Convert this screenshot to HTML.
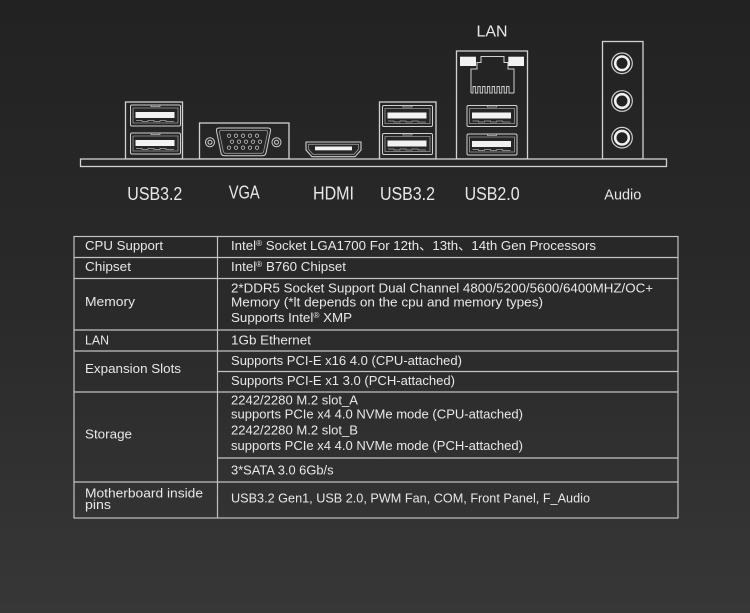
<!DOCTYPE html>
<html><head><meta charset="utf-8"><style>
html,body{margin:0;padding:0;background:#2a2a2a;}
svg{display:block;}
text{font-family:"Liberation Sans","Noto Sans CJK SC",sans-serif;fill:#e8e8e8;}
</style></head><body>
<svg width="750" height="613" viewBox="0 0 750 613" xmlns="http://www.w3.org/2000/svg">
<defs>
<linearGradient id="bg" x1="0" y1="0" x2="0" y2="1">
<stop offset="0" stop-color="#222222"/><stop offset="0.5" stop-color="#2a2a2a"/><stop offset="1" stop-color="#373737"/>
</linearGradient>
<g id="usb">
<rect x="0.5" y="0.5" width="50" height="21" rx="1.5" fill="none" stroke="#d0d0d0" stroke-width="1"/>
<path d="M3,3.5 H48 V18.5 H3 Z" fill="none" stroke="#9a9a9a" stroke-width="0.8"/>
<path d="M21,0.5 V2 H30 V0.5" fill="none" stroke="#bbb" stroke-width="0.8"/>
<rect x="5.5" y="7.5" width="39" height="6" fill="#f2f2f2"/>
<path d="M6,16 H12 V17 H18 V16 H24 V17 H30 V16 H36 V17 H44" stroke="#aaa" stroke-width="0.7" fill="none"/>
</g>
</defs>
<rect x="0" y="0" width="750" height="613" fill="url(#bg)"/>

<!-- ports -->
<g fill="none" stroke="#d2d2d2" stroke-width="1.3">
<!-- left USB3.2 box -->
<rect x="125.5" y="102" width="57" height="57"/>
<!-- VGA box -->
<rect x="199.5" y="123" width="89.5" height="36"/>
<!-- right USB3.2 box -->
<rect x="379.5" y="102" width="56.5" height="57"/>
<!-- LAN box -->
<rect x="456.5" y="51" width="71" height="108"/>
<!-- Audio box -->
<rect x="602.5" y="41.5" width="40.5" height="117.5"/>
</g>

<use href="#usb" x="130" y="104.5"/>
<use href="#usb" x="130" y="132.5"/>
<use href="#usb" x="382" y="105"/>
<use href="#usb" x="382" y="133"/>
<use href="#usb" x="466.5" y="105"/>
<use href="#usb" x="466.5" y="133.5"/>

<!-- VGA -->
<g fill="none" stroke="#d0d0d0" stroke-width="1">
<path d="M219,128 H268 Q271,128 270.5,131 L266,153 Q265.5,155.7 262.5,155.7 H224.5 Q221.5,155.7 221,153 L216.5,131 Q216,128 219,128 Z"/>
<path d="M221,130.5 H266 Q268,130.5 267.6,132.5 L263.6,151.5 Q263.2,153.3 261,153.3 H226 Q223.8,153.3 223.4,151.5 L219.4,132.5 Q219,130.5 221,130.5 Z" stroke="#999" stroke-width="0.8"/>
<circle cx="210" cy="142.3" r="4.5"/>
<circle cx="210" cy="142.3" r="2"/>
<circle cx="276.5" cy="142.3" r="4.5"/>
<circle cx="276.5" cy="142.3" r="2"/>
<g stroke-width="0.8" stroke="#c8c8c8">
<circle cx="229" cy="135.7" r="1.7"/><circle cx="236" cy="135.7" r="1.7"/><circle cx="243" cy="135.7" r="1.7"/><circle cx="250" cy="135.7" r="1.7"/><circle cx="257" cy="135.7" r="1.7"/>
<circle cx="232" cy="141.7" r="1.7"/><circle cx="239" cy="141.7" r="1.7"/><circle cx="246" cy="141.7" r="1.7"/><circle cx="253" cy="141.7" r="1.7"/><circle cx="260" cy="141.7" r="1.7"/>
<circle cx="229" cy="147.7" r="1.7"/><circle cx="236" cy="147.7" r="1.7"/><circle cx="243" cy="147.7" r="1.7"/><circle cx="250" cy="147.7" r="1.7"/><circle cx="257" cy="147.7" r="1.7"/>
</g>
</g>

<!-- HDMI -->
<g fill="none" stroke="#d0d0d0" stroke-width="1.1">
<path d="M306,142 H361 V150 L355,156.7 H312 L306,150 Z"/>
<path d="M308.5,144.3 H358.5 V149.2 L354,154.3 H313 L308.5,149.2 Z" stroke="#999" stroke-width="0.8"/>
</g>
<rect x="315" y="146.5" width="37" height="3.8" fill="#f2f2f2"/>

<!-- RJ45 -->
<rect x="460" y="56.7" width="16" height="9.3" fill="#f2f2f2"/>
<rect x="508.3" y="56.7" width="15.7" height="9.3" fill="#f2f2f2"/>
<path d="M471,93 V69 H477 V62.5 H481 V56.5 H504 V62.5 H508 V69 H514 V93" fill="none" stroke="#d0d0d0" stroke-width="1"/>
<path d="M471,93 H473 V86.5 H475.4 V93 H477.8 V86.5 H480.2 V93 H482.6 V86.5 H485 V93 H487.4 V86.5 H489.8 V93 H492.2 V86.5 H494.6 V93 H497 V86.5 H499.4 V93 H501.8 V86.5 H504.2 V93 H506.6 V86.5 H509 V93 H514" fill="none" stroke="#cfcfcf" stroke-width="0.9"/>

<!-- Audio jacks -->
<g fill="#222">
<circle cx="622" cy="63.3" r="10.3" stroke="#cfcfcf" stroke-width="1.2"/>
<circle cx="622" cy="63.3" r="6.8" stroke="#f0f0f0" stroke-width="2.6"/>
<circle cx="622" cy="101" r="10.3" stroke="#cfcfcf" stroke-width="1.2"/>
<circle cx="622" cy="101" r="6.8" stroke="#f0f0f0" stroke-width="2.6"/>
<circle cx="622" cy="137.7" r="10.3" stroke="#cfcfcf" stroke-width="1.2"/>
<circle cx="622" cy="137.7" r="6.8" stroke="#f0f0f0" stroke-width="2.6"/>
</g>

<!-- base plate -->
<rect x="80.5" y="159" width="586" height="7.5" fill="#262626" stroke="#d2d2d2" stroke-width="1.3"/>

<!-- port labels -->
<text x="492" y="36.5" font-size="16" textLength="31" lengthAdjust="spacingAndGlyphs" text-anchor="start" transform="translate(-15.5,0)">LAN</text>
<text x="127.3" y="200" font-size="18" textLength="55" lengthAdjust="spacingAndGlyphs">USB3.2</text>
<text x="228.7" y="198.3" font-size="18" textLength="31" lengthAdjust="spacingAndGlyphs">VGA</text>
<text x="313" y="199.3" font-size="18" textLength="41" lengthAdjust="spacingAndGlyphs">HDMI</text>
<text x="380" y="200" font-size="18" textLength="55" lengthAdjust="spacingAndGlyphs">USB3.2</text>
<text x="464.6" y="200" font-size="18" textLength="55" lengthAdjust="spacingAndGlyphs">USB2.0</text>
<text x="604.3" y="199.3" font-size="14.5" textLength="37" lengthAdjust="spacingAndGlyphs">Audio</text>

<!-- table -->
<g fill="none" stroke="#c2c2c2" stroke-width="1.2">
<rect x="74" y="236.5" width="604" height="281.5"/>
<line x1="217.5" y1="236.5" x2="217.5" y2="518"/>
<line x1="74" y1="257.5" x2="678" y2="257.5"/>
<line x1="74" y1="278.5" x2="678" y2="278.5"/>
<line x1="74" y1="330" x2="678" y2="330"/>
<line x1="74" y1="351" x2="678" y2="351"/>
<line x1="217.5" y1="371.5" x2="678" y2="371.5"/>
<line x1="74" y1="392" x2="678" y2="392"/>
<line x1="217.5" y1="458" x2="678" y2="458"/>
<line x1="74" y1="482" x2="678" y2="482"/>
</g>

<g font-size="13">
<text x="85" y="250" textLength="78" lengthAdjust="spacingAndGlyphs">CPU Support</text>
<text x="85" y="271" textLength="46" lengthAdjust="spacingAndGlyphs">Chipset</text>
<text x="85" y="306" textLength="50" lengthAdjust="spacingAndGlyphs">Memory</text>
<text x="85" y="344.3" textLength="24" lengthAdjust="spacingAndGlyphs">LAN</text>
<text x="85" y="373" textLength="96" lengthAdjust="spacingAndGlyphs">Expansion Slots</text>
<text x="85" y="438.5" textLength="47" lengthAdjust="spacingAndGlyphs">Storage</text>
<text x="85" y="497.3" textLength="118" lengthAdjust="spacingAndGlyphs">Motherboard inside</text>
<text x="85" y="509" textLength="26" lengthAdjust="spacingAndGlyphs">pins</text>

<text x="231" y="250" textLength="365" lengthAdjust="spacingAndGlyphs">Intel<tspan font-size="8" dy="-4">®</tspan><tspan dy="4"> Socket LGA1700 For 12th、13th、14th Gen Processors</tspan></text>
<text x="231" y="271" textLength="115" lengthAdjust="spacingAndGlyphs">Intel<tspan font-size="8" dy="-4">®</tspan><tspan dy="4"> B760 Chipset</tspan></text>
<text x="231" y="292.5" textLength="422" lengthAdjust="spacingAndGlyphs">2*DDR5 Socket Support Dual Channel 4800/5200/5600/6400MHZ/OC+</text>
<text x="231" y="306.7" textLength="312" lengthAdjust="spacingAndGlyphs">Memory (*lt depends on the cpu and memory types)</text>
<text x="231" y="322" textLength="121" lengthAdjust="spacingAndGlyphs">Supports Intel<tspan font-size="8" dy="-4">®</tspan><tspan dy="4"> XMP</tspan></text>
<text x="231" y="344.3" textLength="80" lengthAdjust="spacingAndGlyphs">1Gb Ethernet</text>
<text x="231" y="365" textLength="231" lengthAdjust="spacingAndGlyphs">Supports PCI-E x16 4.0 (CPU-attached)</text>
<text x="231" y="385" textLength="224" lengthAdjust="spacingAndGlyphs">Supports PCI-E x1 3.0 (PCH-attached)</text>
<text x="231" y="404.3" textLength="127" lengthAdjust="spacingAndGlyphs">2242/2280 M.2 slot_A</text>
<text x="231" y="418.5" textLength="292" lengthAdjust="spacingAndGlyphs">supports PCIe x4 4.0 NVMe mode (CPU-attached)</text>
<text x="231" y="434.3" textLength="127" lengthAdjust="spacingAndGlyphs">2242/2280 M.2 slot_B</text>
<text x="231" y="450" textLength="292" lengthAdjust="spacingAndGlyphs">supports PCIe x4 4.0 NVMe mode (PCH-attached)</text>
<text x="231" y="474.5" textLength="102.5" lengthAdjust="spacingAndGlyphs">3*SATA 3.0 6Gb/s</text>
<text x="231" y="502.7" textLength="359" lengthAdjust="spacingAndGlyphs">USB3.2 Gen1, USB 2.0, PWM Fan, COM, Front Panel, F_Audio</text>
</g>
</svg>
</body></html>
